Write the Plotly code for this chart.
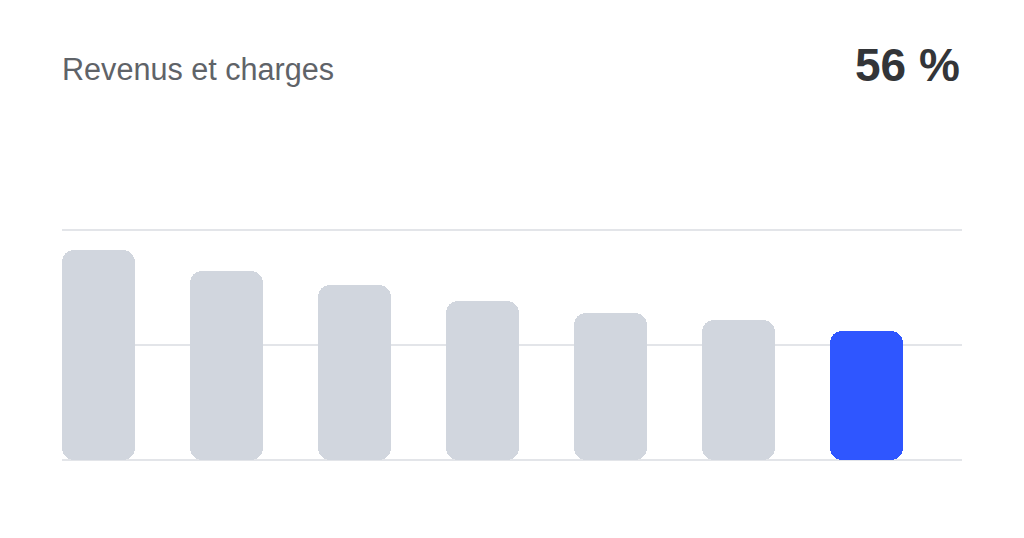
import plotly.graph_objects as go

# Data
categories = ["1", "2", "3", "4", "5", "6", "7"]
values = [91, 82, 76, 69, 64, 61, 56]
bar_colors = ["#D1D6DE"] * 6 + ["#2F56FF"]
title_text = "Revenus et charges"
kpi_text = "56 %"
grid_ticks = [0, 50, 100]

BAR_W = 0.57
RADIUS = 12
OFF = 8  # page body offset

# Each bar is drawn as two overlapping halves so that both ends get rounded corners
top_base = [v * 0.4 for v in values]
top_len = [v * 0.6 for v in values]
bot_base = [v * 0.6 for v in values]
bot_len = [-v * 0.6 for v in values]

fig = go.Figure()
fig.add_trace(go.Bar(x=categories, y=bot_len, base=bot_base, width=BAR_W,
                     marker=dict(color=bar_colors, line=dict(width=0)),
                     hoverinfo="skip", showlegend=False))
fig.add_trace(go.Bar(x=categories, y=top_len, base=top_base, width=BAR_W,
                     marker=dict(color=bar_colors, line=dict(width=0)),
                     hoverinfo="skip", showlegend=False))

plot_top = 218 - OFF
plot_bot = 538 - 66 - OFF
ph = plot_bot - plot_top
pw = 900


def ypaper(px):
    return (plot_bot - (px - OFF)) / ph


fig.update_layout(
    width=1024, height=538,
    margin=dict(l=62 - OFF, r=62 + OFF, t=plot_top, b=538 - plot_bot),
    paper_bgcolor="white", plot_bgcolor="white",
    barmode="overlay", barcornerradius=RADIUS,
    bargap=0,
    showlegend=False,
    hovermode=False,
    font=dict(family="Liberation Sans, Arial, sans-serif"),
    xaxis=dict(type="category", range=[-0.285, 6.746], showgrid=False,
               showticklabels=False, ticks="", zeroline=False, showline=False,
               fixedrange=True),
    yaxis=dict(range=[-5, 105], tickvals=grid_ticks, showticklabels=False,
               ticks="", showgrid=True, gridcolor="#E3E5E9", gridwidth=2,
               zeroline=False, showline=False, fixedrange=True),
    annotations=[
        dict(text=title_text, xref="paper", yref="paper", x=-2 / pw, y=ypaper(70),
             xanchor="left", yanchor="middle", showarrow=False,
             font=dict(size=30.6, color="#5F6368",
                       family="Liberation Sans, Arial, sans-serif")),
        dict(text="<b>" + kpi_text + "</b>", xref="paper", yref="paper", x=1,
             y=ypaper(65), xanchor="right", yanchor="middle", showarrow=False,
             font=dict(size=46, color="#333538",
                       family="Liberation Sans, Arial, sans-serif")),
    ],
)

fig.write_html("out.html", config={"displayModeBar": False})
